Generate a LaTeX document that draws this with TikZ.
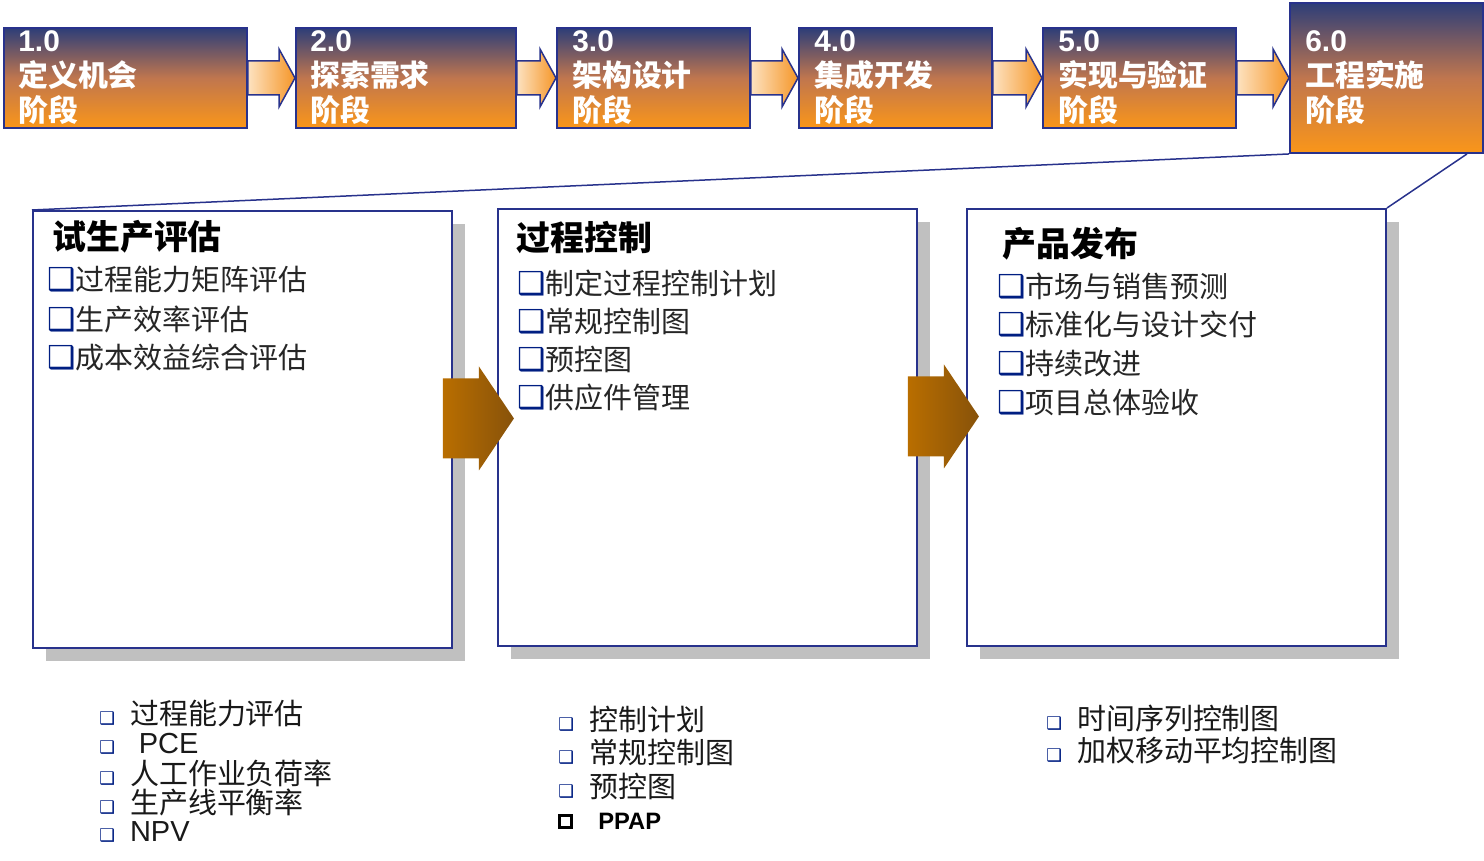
\documentclass[tikz,border=0pt]{standalone}
\usepackage{fontspec}
\setmainfont{Liberation Sans}
\newfontfamily\cjk{Noto Sans CJK SC}
\newfontfamily\sym{DejaVu Sans}
\usetikzlibrary{calc,shadows}

\definecolor{navyline}{RGB}{40,50,140}
\definecolor{stagetop}{RGB}{45,62,120}
\definecolor{stagemid}{RGB}{192,118,78}
\definecolor{stagebot}{RGB}{250,150,25}
\definecolor{peach}{RGB}{253,226,192}
\definecolor{arrorange}{RGB}{245,150,40}
\definecolor{brownL}{RGB}{185,110,0}
\definecolor{brownR}{RGB}{135,82,10}
\definecolor{boxnavy}{RGB}{0,30,130}
\definecolor{shadowgray}{RGB}{192,192,192}

\newcommand{\chkbig}{{\sym\bfseries\fontsize{18}{18}\selectfont\textcolor{boxnavy}{❑}}}
\newcommand{\chksmall}{{\sym\bfseries\fontsize{10}{10}\selectfont\textcolor{boxnavy}{❑}}\hspace{8.5pt}}

\tikzset{
  stage/.style={draw=navyline, line width=0.04cm, top color=stagetop, bottom color=stagebot, middle color=stagemid, anchor=north west, minimum height=2cm, inner sep=0pt},
  stagetxt/.style={anchor=west, align=left, inner sep=0pt, text=white, font=\fontsize{17}{19.9}\selectfont\bfseries},
  smallarr/.style={draw=navyline, line width=0.03cm, left color=peach, right color=arrorange},
  panel/.style={draw=navyline, line width=0.04cm, fill=white, anchor=north west, minimum width=8.38cm, minimum height=8.74cm, general shadow={fill=shadowgray, shadow xshift=0.26cm, shadow yshift=-0.26cm}},
  zoomline/.style={draw=navyline, line width=0.03cm},
  bigarr/.style={left color=brownL, right color=brownR},
  title/.style={anchor=west, inner sep=0pt, font=\cjk\bfseries\fontsize{19.3}{21}\selectfont},
  item/.style={anchor=west, inner sep=0pt, text=black!85, font=\cjk\fontsize{16.5}{18}\selectfont},
  low/.style={anchor=west, inner sep=0pt, text=black!90, font=\fontsize{16.5}{18}\selectfont}
}

\begin{document}
\begin{tikzpicture}[x=0.02cm,y=-0.02cm]
\useasboundingbox (0,0) rectangle (1484,861);

% phases
\node[stage, minimum width=4.86cm] (p1) at (3,27) {};
\node[stage, minimum width=4.4cm] (p2) at (295,27) {};
\node[stage, minimum width=3.86cm] (p3) at (556,27) {};
\node[stage, minimum width=3.86cm] (p4) at (798,27) {};
\node[stage, minimum width=3.86cm] (p5) at (1042,27) {};
\node[stage, minimum width=3.86cm, minimum height=3cm] (p6) at (1289,2) {};

\node[stagetxt] (t1) at ($(p1.west)+(15,0)$) {1.0\\{\cjk 定义机会}\\{\cjk 阶段}};
\node[stagetxt] (t2) at ($(p2.west)+(15,0)$) {2.0\\{\cjk 探索需求}\\{\cjk 阶段}};
\node[stagetxt] (t3) at ($(p3.west)+(16,0)$) {3.0\\{\cjk 架构设计}\\{\cjk 阶段}};
\node[stagetxt] (t4) at ($(p4.west)+(16,0)$) {4.0\\{\cjk 集成开发}\\{\cjk 阶段}};
\node[stagetxt] (t5) at ($(p5.west)+(16,0)$) {5.0\\{\cjk 实现与验证}\\{\cjk 阶段}};
\node[stagetxt] (t6) at ($(p6.west)+(16,0)$) {6.0\\{\cjk 工程实施}\\{\cjk 阶段}};

\foreach \i/\j in {1/2,2/3,3/4,4/5,5/6}
  \draw[smallarr] ($(p\i.east)+(0,-17)$) -- ($(p\j.west)+(-16,-17)$) -- ($(p\j.west)+(-16,-29)$) -- (p\j.west)
    -- ($(p\j.west)+(-16,29)$) -- ($(p\j.west)+(-16,17)$) -- ($(p\i.east)+(0,17)$) -- cycle;

% detail of 6.0
\node[panel] (A) at (32,210) {};
\node[panel] (B) at (497,208) {};
\node[panel] (C) at (966,208) {};

\draw[zoomline] (p6.south west) -- (A.north west);
\draw[zoomline] ([xshift=-0.34cm]p6.south east) -- (C.north east);

\foreach \s in {A,B}
  \shade[bigarr] ($(\s.east)+(-10,-51)$) -- ($(\s.east)+(26,-51)$) -- ($(\s.east)+(26,-63)$) -- ($(\s.east)+(61,-11)$)
    -- ($(\s.east)+(26,41)$) -- ($(\s.east)+(26,29)$) -- ($(\s.east)+(-10,29)$) -- cycle;

\node[title] (ta) at (52,237) {试生产评估};
\foreach \txt [count=\k] in {过程能力矩阵评估,生产效率评估,成本效益综合评估}
  \node[item] (a\k) at (47,{241+39*\k}) {\chkbig\txt};

\node[title] (tb) at (516,238) {过程控制};
\foreach \txt [count=\k] in {制定过程控制计划,常规控制图,预控图,供应件管理}
  \node[item] (b\k) at (517,{245+38*\k}) {\chkbig\txt};

\node[title] (tc) at (1002,244) {产品发布};
\foreach \txt [count=\k] in {市场与销售预测,标准化与设计交付,持续改进,项目总体验收}
  \node[item] (c\k) at (997,{247.3+38.7*\k}) {\chkbig\txt};

% tools
\foreach \txt [count=\k] in {{\cjk 过程能力评估},{\hspace{5pt}PCE},{\cjk 人工作业负荷率},{\cjk 生产线平衡率},NPV}
  \node[low] (l\k) at (99,{684.5+29.5*\k}) {\chksmall\txt};

\foreach \txt [count=\k] in {控制计划,常规控制图,预控图}
  \node[low] (m\k) at (558,{685.5+33.5*\k}) {\chksmall\cjk\txt};
\node[draw=black, line width=0.06cm, minimum size=0.24cm, inner sep=0pt] (m4) at (565,821) {};
\node[anchor=west, inner sep=0pt, font=\bfseries\fontsize{13.5}{15}\selectfont] (pp) at (598,821) {PPAP};

\foreach \txt [count=\k] in {时间序列控制图,加权移动平均控制图}
  \node[low] (n\k) at (1046,{685+33*\k}) {\chksmall\cjk\txt};
\end{tikzpicture}
\end{document}
